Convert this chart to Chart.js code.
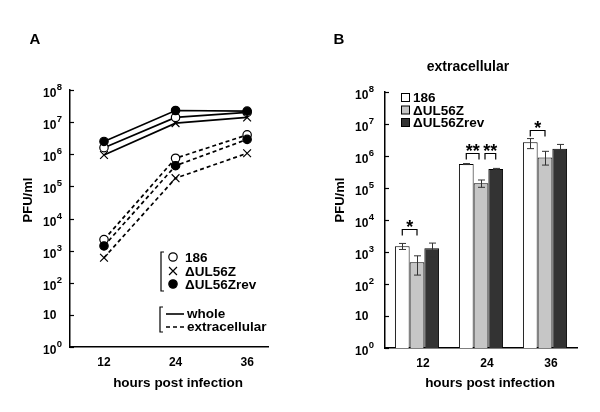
<!DOCTYPE html>
<html>
<head>
<meta charset="utf-8">
<script src="https://cdn.jsdelivr.net/npm/chart.js@4.4.1/dist/chart.umd.min.js"></script>
<style>
  html, body { margin: 0; padding: 0; background: #fff; }
  #wrap { position: relative; width: 600px; height: 412px; }
  #wrap canvas { position: absolute; top: 0; }
  #chartA { left: 0; }
  #chartB { left: 300px; }
</style>
</head>
<body>
<div id="wrap">
  <canvas id="chartA" width="300" height="412"></canvas>
  <canvas id="chartB" width="300" height="412"></canvas>
</div>
<script>
// shared log axis (PFU/ml): "10" with a superscript exponent
const yTickValues = [1, 10, 1e2, 1e3, 1e4, 1e5, 1e6, 1e7, 1e8];
const yTickExponents = ['0', '', '2', '3', '4', '5', '6', '7', '8'];
const strains = ['186', 'ΔUL56Z', 'ΔUL56Zrev'];

// panel A: growth curves
const hours = [12, 24, 36];
const whole186 = [1.6e6, 1.4e7, 2.0e7];
const wholeDel = [9.5e5, 9.3e6, 1.4e7];
const wholeRev = [2.5e6, 2.3e7, 2.2e7];
const extra186 = [2.2e3, 7.5e5, 4.0e6];
const extraDel = [6.0e2, 1.8e5, 1.07e6];
const extraRev = [1.4e3, 4.4e5, 2.9e6];

// panel B: extracellular titres with error bars
const hourLabels = ['12', '24', '36'];
const bar186 = [1.5e3, 5.6e5, 2.7e6];
const barDel = [4.8e2, 1.4e5, 8.9e5];
const barRev = [1.3e3, 3.9e5, 1.7e6];
const err186Lo = [1.2e3, 5.4e5, 1.7e6];
const err186Hi = [1.85e3, 5.8e5, 3.5e6];
const errDelLo = [1.9e2, 1.05e5, 5.2e5];
const errDelHi = [7.6e2, 1.78e5, 1.4e6];
const errRevLo = [7.1e2, 3.7e5, 1.35e6];
const errRevHi = [1.9e3, 4.1e5, 2.3e6];

// significance brackets: hour index, strain from, strain to, height, stars
const sigHour = [0, 1, 1, 2];
const sigFrom = [0, 0, 1, 0];
const sigTo = [1, 1, 2, 1];
const sigLevel = [5.2e3, 1.26e6, 1.26e6, 6.5e6];
const sigStars = ['*', '**', '**', '*'];

const FONT = '"Liberation Sans", Arial, sans-serif';
Chart.defaults.font.family = FONT;
Chart.defaults.font.weight = 'bold';
Chart.defaults.color = '#000';

const pointStyles = ['circle', 'crossRot', 'circle'];
const pointFills = ['#fff', '#000', '#000'];
const pointSizes = [4.2, 5.5, 4.2];
const barFills = ['#ffffff', '#c6c6c6', '#333333'];

function logAxis(width) {
  return {
    type: 'logarithmic',
    min: 1,
    max: 1e8,
    afterBuildTicks: s => { s.ticks = yTickValues.map(v => ({ value: v })); },
    afterFit: s => { s.width = width; },
    grid: { display: false, drawTicks: false },
    border: { display: true, color: '#000', width: 1.5 },
    // labels are drawn by the yLabels plugin so the exponent can be raised
    ticks: { display: false, autoSkip: false }
  };
}

function drawMarker(ctx, i, x, y) {
  const r = pointSizes[i];
  ctx.beginPath();
  if (pointStyles[i] === 'circle') {
    ctx.arc(x, y, r, 0, Math.PI * 2);
    ctx.fillStyle = pointFills[i];
    ctx.fill();
    ctx.stroke();
  } else {
    const d = r * 0.72;
    ctx.moveTo(x - d, y - d); ctx.lineTo(x + d, y + d);
    ctx.moveTo(x + d, y - d); ctx.lineTo(x - d, y + d);
    ctx.stroke();
  }
}

function bracket(ctx, x, y1, y2) {
  ctx.beginPath();
  ctx.moveTo(x + 3, y1); ctx.lineTo(x, y1); ctx.lineTo(x, y2); ctx.lineTo(x + 3, y2);
  ctx.stroke();
}

const yLabels = {
  id: 'yLabels',
  afterDraw(chart, args, o) {
    const { ctx, chartArea, scales: { y } } = chart;
    ctx.save();
    ctx.strokeStyle = '#000';
    ctx.fillStyle = '#000';
    ctx.lineWidth = 1.2;
    ctx.textAlign = 'left';
    ctx.textBaseline = 'middle';
    y.ticks.forEach((t, i) => {
      const py = Math.round(y.getPixelForValue(t.value)) + 0.5;
      ctx.beginPath();
      ctx.moveTo(chartArea.left, py);
      ctx.lineTo(chartArea.left + 4, py);
      ctx.stroke();
      const x0 = chartArea.left - o.labelGap;
      const exp = yTickExponents[i];
      ctx.font = 'bold 12px ' + FONT;
      if (exp) {
        ctx.fillText('10', x0, py + 3.5);
        const w = ctx.measureText('10').width;
        ctx.font = 'bold 9.5px ' + FONT;
        ctx.fillText(exp, x0 + w + 0.5, py - 3.5);
      } else {
        ctx.fillText('10', x0, py + 0.5);
      }
    });
    ctx.restore();
  }
};

const panelText = {
  id: 'panelText',
  afterDraw(chart, args, o) {
    const ctx = chart.ctx;
    ctx.save();
    ctx.fillStyle = '#000';
    ctx.textAlign = 'center';
    ctx.textBaseline = 'middle';
    ctx.font = 'bold 15px ' + FONT;
    ctx.fillText(o.letter, o.letterX, o.letterY);
    ctx.font = 'bold 13.5px ' + FONT;
    ctx.fillText('hours post infection', o.xTitleX, o.xTitleY);
    if (o.heading) {
      ctx.font = 'bold 14px ' + FONT;
      ctx.fillText(o.heading, o.headingX, o.headingY);
    }
    ctx.translate(o.yTitleX, o.yTitleY);
    ctx.rotate(-Math.PI / 2);
    ctx.font = 'bold 13px ' + FONT;
    ctx.fillText('PFU/ml', 0, 0);
    ctx.restore();
  }
};

const legendA = {
  id: 'legendA',
  afterDraw(chart) {
    const ctx = chart.ctx;
    ctx.save();
    ctx.strokeStyle = '#000';
    ctx.lineWidth = 1.2;
    bracket(ctx, 161, 252, 291);
    const rows = [257, 271, 284];
    ctx.font = 'bold 13.5px ' + FONT;
    ctx.textBaseline = 'middle';
    strains.forEach((s, i) => {
      drawMarker(ctx, i, 173, rows[i]);
      ctx.fillStyle = '#000';
      ctx.fillText(s, 185, rows[i] + 1);
    });
    bracket(ctx, 160, 307, 332);
    ctx.lineWidth = 1.6;
    ctx.beginPath(); ctx.moveTo(166, 314); ctx.lineTo(184, 314); ctx.stroke();
    ctx.setLineDash([4, 3]);
    ctx.beginPath(); ctx.moveTo(166, 327); ctx.lineTo(184, 327); ctx.stroke();
    ctx.setLineDash([]);
    ctx.fillText('whole', 187, 314);
    ctx.fillText('extracellular', 187, 327);
    ctx.restore();
  }
};

function lineSet(label, values, i, dashed) {
  return {
    label: label,
    data: hours.map((h, j) => ({ x: h, y: values[j] })),
    borderColor: '#000',
    borderWidth: 1.7,
    borderDash: dashed ? [4, 3] : [],
    pointStyle: pointStyles[i],
    pointRadius: pointSizes[i],
    pointBackgroundColor: pointFills[i],
    pointBorderColor: '#000',
    pointBorderWidth: 1.2
  };
}

new Chart(document.getElementById('chartA'), {
  type: 'line',
  data: {
    datasets: [
      lineSet('ΔUL56Zrev whole', wholeRev, 2, false),
      lineSet('186 whole', whole186, 0, false),
      lineSet('ΔUL56Z whole', wholeDel, 1, false),
      lineSet('ΔUL56Zrev extracellular', extraRev, 2, true),
      lineSet('186 extracellular', extra186, 0, true),
      lineSet('ΔUL56Z extracellular', extraDel, 1, true)
    ]
  },
  options: {
    responsive: false,
    animation: false,
    layout: { padding: { left: 0, top: 90, right: 32, bottom: 0 } },
    plugins: {
      legend: { display: false },
      tooltip: { enabled: false },
      yLabels: { labelGap: 27 },
      panelText: {
        letter: 'A', letterX: 35, letterY: 40,
        xTitleX: 178, xTitleY: 383,
        yTitleX: 28, yTitleY: 200
      }
    },
    scales: {
      x: {
        type: 'linear',
        min: 6.3,
        max: 39.5,
        afterBuildTicks: s => { s.ticks = hours.map(v => ({ value: v })); },
        afterFit: s => { s.height = 65; },
        grid: { display: false, drawTicks: false },
        border: { display: true, color: '#000', width: 1.5 },
        ticks: { padding: 8, color: '#000', font: { size: 12, weight: 'bold' } }
      },
      y: logAxis(70)
    }
  },
  plugins: [yLabels, panelText, legendA]
});

const errLo = [err186Lo, errDelLo, errRevLo];
const errHi = [err186Hi, errDelHi, errRevHi];

const errorBars = {
  id: 'errorBars',
  afterDatasetsDraw(chart) {
    const { ctx, scales: { y } } = chart;
    ctx.save();
    ctx.strokeStyle = '#333';
    ctx.lineWidth = 1;
    chart.data.datasets.forEach((ds, i) => {
      chart.getDatasetMeta(i).data.forEach((bar, j) => {
        const x = Math.round(bar.x) + 0.5;
        const lo = y.getPixelForValue(errLo[i][j]);
        const hi = y.getPixelForValue(errHi[i][j]);
        ctx.beginPath();
        ctx.moveTo(x, lo); ctx.lineTo(x, hi);
        ctx.moveTo(x - 3.5, lo); ctx.lineTo(x + 3.5, lo);
        ctx.moveTo(x - 3.5, hi); ctx.lineTo(x + 3.5, hi);
        ctx.stroke();
      });
    });
    // significance brackets; brackets sharing a bar are pulled apart a little
    ctx.strokeStyle = '#000';
    ctx.lineWidth = 1.2;
    ctx.fillStyle = '#000';
    ctx.textAlign = 'center';
    ctx.textBaseline = 'alphabetic';
    ctx.font = 'bold 18px ' + FONT;
    sigHour.forEach((h, k) => {
      const shared = (a, b) => sigHour.some((h2, m) => m !== k && h2 === h && (sigFrom[m] === a || sigTo[m] === a) && a === b);
      let x1 = chart.getDatasetMeta(sigFrom[k]).data[h].x;
      let x2 = chart.getDatasetMeta(sigTo[k]).data[h].x;
      if (shared(sigFrom[k], sigFrom[k])) x1 += 4;
      if (shared(sigTo[k], sigTo[k])) x2 -= 2;
      const py = Math.round(y.getPixelForValue(sigLevel[k])) + 0.5;
      ctx.beginPath();
      ctx.moveTo(x1, py + 6); ctx.lineTo(x1, py); ctx.lineTo(x2, py); ctx.lineTo(x2, py + 6);
      ctx.stroke();
      ctx.fillText(sigStars[k], (x1 + x2) / 2, py + 3);
    });
    ctx.restore();
  }
};

const legendB = {
  id: 'legendB',
  afterDraw(chart) {
    const ctx = chart.ctx;
    ctx.save();
    ctx.font = 'bold 13.5px ' + FONT;
    ctx.textBaseline = 'middle';
    ctx.strokeStyle = '#000';
    ctx.lineWidth = 1;
    const rows = [97.5, 110, 122.5];
    strains.forEach((s, i) => {
      ctx.fillStyle = barFills[i];
      ctx.fillRect(101.5, rows[i] - 4, 8, 8);
      ctx.strokeRect(101.5, rows[i] - 4, 8, 8);
      ctx.fillStyle = '#000';
      ctx.fillText(s, 113, rows[i] + 1);
    });
    ctx.restore();
  }
};

new Chart(document.getElementById('chartB'), {
  type: 'bar',
  data: {
    labels: hourLabels,
    datasets: [bar186, barDel, barRev].map((vals, i) => ({
      label: strains[i],
      data: vals,
      backgroundColor: barFills[i],
      borderColor: '#000',
      borderWidth: 1,
      categoryPercentage: 0.69,
      barPercentage: 1.0
    }))
  },
  options: {
    responsive: false,
    animation: false,
    layout: { padding: { left: 0, top: 92, right: 23, bottom: 0 } },
    plugins: {
      legend: { display: false },
      tooltip: { enabled: false },
      yLabels: { labelGap: 30 },
      panelText: {
        letter: 'B', letterX: 39, letterY: 40,
        heading: 'extracellular', headingX: 168, headingY: 67,
        xTitleX: 190, xTitleY: 383,
        yTitleX: 40, yTitleY: 200
      }
    },
    scales: {
      x: {
        afterFit: s => { s.height = 64; },
        grid: { display: false, drawTicks: false },
        border: { display: true, color: '#000', width: 1.5 },
        ticks: { padding: 8, labelOffset: 6, color: '#000', font: { size: 12, weight: 'bold' } }
      },
      y: logAxis(85)
    }
  },
  plugins: [errorBars, yLabels, panelText, legendB]
});
</script>
</body>
</html>
